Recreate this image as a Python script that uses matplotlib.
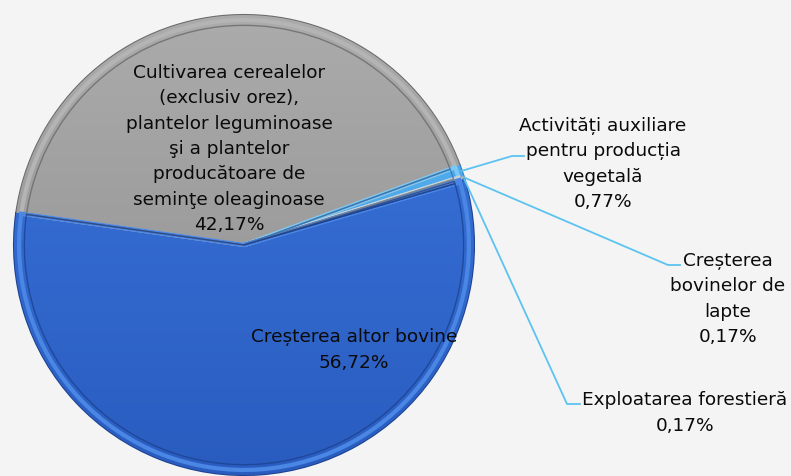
import numpy as np
import matplotlib.pyplot as plt
from matplotlib.colors import LinearSegmentedColormap

labels = [
    "Cultivarea cerealelor\n(exclusiv orez),\nplantelor leguminoase\nşi a plantelor\nproducătoare de\nseminţe oleaginoase",
    "Activități auxiliare\npentru producția\nvegetală",
    "Creșterea\nbovinelor de\nlapte",
    "Exploatarea forestieră",
    "Creșterea altor bovine",
]
values = [42.17, 0.77, 0.17, 0.17, 56.72]
value_text = ["42,17%", "0,77%", "0,17%", "0,17%", "56,72%"]
colors = ["#9c9c9c", "#4aa8ee", "#b8b8b8", "#2f66cf", "#3069d4"]
# top / bottom shades for the gradient fill of each slice
grad = [("#ababab", "#8e8e8e"), ("#5ab6f2", "#3a96e0"), ("#c4c4c4", "#a8a8a8"),
        ("#3a72d8", "#2659be"), ("#3b76de", "#2a5cbf")]
edges = ["#6a6a6a", "#2a78c0", "#8a8a8a", "#1d4596", "#1c4290"]
rims = ["#b4b4b4", "#7cc8f5", "#d0d0d0", "#4a86e4", "#4a86e4"]

W, H = 791, 477
cx, cy, R = 244, 246, 230  # pie centre and radius in pixels


def px(x, y):
    return (x - cx) / R, (cy - y) / R


fig = plt.figure(figsize=(W / 100, H / 100), dpi=100)
fig.patch.set_facecolor("#f4f4f4")
ax = fig.add_axes([0, 0, 1, 1])
ax.axis("off")


def limits():
    ax.set_xlim(-cx / R, (W - cx) / R)
    ax.set_ylim(-(H - cy) / R, cy / R)


wedges, _ = ax.pie(values, colors=colors, startangle=172, counterclock=False,
                   radius=1, wedgeprops=dict(linewidth=1.5))

# gradient fill per wedge
yy = np.linspace(1, 0, 256).reshape(-1, 1)
for w, (c1, c2), ec in zip(wedges, grad, edges):
    w.set_edgecolor(ec)
    cmap = LinearSegmentedColormap.from_list("g", [c2, c1])
    im = ax.imshow(yy, cmap=cmap, extent=(-1, 1, -1, 1), aspect="auto",
                   zorder=w.get_zorder() + 0.1, interpolation="bicubic")
    im.set_clip_path(w)

# bevel: light rim band, then a darker inner line
rim, _ = ax.pie(values, startangle=172, counterclock=False, radius=0.978,
                wedgeprops=dict(fill=False, linewidth=3.0))
for w, c in zip(rim, rims):
    w.set_edgecolor(c)
    w.set_zorder(4)
inner, _ = ax.pie(values, startangle=172, counterclock=False, radius=0.955,
                  wedgeprops=dict(fill=False, linewidth=1.0))
for w, ec in zip(inner, edges):
    w.set_edgecolor(ec)
    w.set_alpha(0.8)
    w.set_zorder(5)
limits()

font = dict(family="DejaVu Sans", fontsize=13.3, color="#0a0a0a",
            ha="center", va="center", linespacing=1.52, zorder=10)

# labels inside the two big slices
ax.text(*px(229, 149), labels[0] + "\n" + value_text[0], **font)
ax.text(*px(354, 350), labels[4] + "\n" + value_text[4], **font)

# small slices with leader lines
outside = {1: ((603, 164), (512, 157), (524, 157)),
           2: ((728, 299), (668, 266), (680, 266)),
           3: ((685, 413), (567, 405), (580, 405))}
for i, (tpos, elbow, end) in outside.items():
    w = wedges[i]
    ang = np.deg2rad((w.theta1 + w.theta2) / 2)
    sx, sy = np.cos(ang), np.sin(ang)
    ex, ey = px(*elbow)
    fx, fy = px(*end)
    ax.plot([sx, ex, fx], [sy, ey, fy], color="#5cc3f0", lw=1.3, zorder=6)
    ax.text(*px(*tpos), labels[i] + "\n" + value_text[i], **font)

fig.savefig("out.png", dpi=100, facecolor=fig.get_facecolor())
